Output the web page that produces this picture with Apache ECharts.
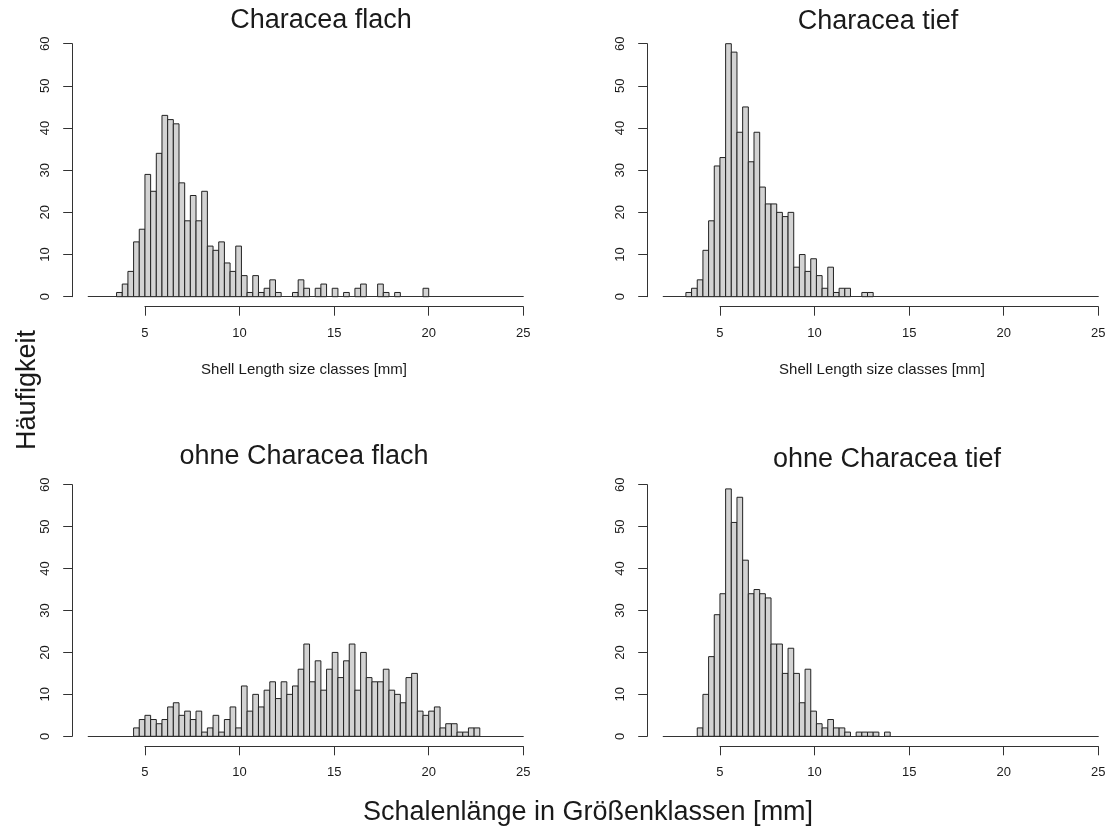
<!DOCTYPE html>
<html>
<head>
<meta charset="utf-8">
<script src="https://cdn.jsdelivr.net/npm/echarts@6/dist/echarts.min.js"></script>
<style>
html,body{margin:0;padding:0;background:#fff;}
#chart{width:1113px;height:831px;}
</style>
</head>
<body>
<div id="chart"></div>
<script>
// ---- data (histogram counts, bin width 0.3 mm) ----
const binWidth = 0.3;
const panelTitles = ['Characea flach', 'Characea tief', 'ohne Characea flach', 'ohne Characea tief'];
const subTitle = 'Shell Length size classes [mm]';
const xLabel = 'Schalenlänge in Größenklassen [mm]';
const yLabel = 'Häufigkeit';

const tlStart = 3.5;
const tlCounts = [1,3,6,13,16,29,25,34,43,42,41,27,18,24,18,25,12,11,13,8,6,12,5,1,5,1,2,4,1,0,0,1,4,2,0,2,3,0,2,0,1,0,2,3,0,0,3,1,0,1,0,0,0,0,2];

const trStart = 3.2;
const trCounts = [1,2,4,11,18,31,33,60,58,39,45,32,39,26,22,22,20,19,20,7,10,6,9,5,2,7,1,2,2,0,0,1,1];

const blStart = 4.4;
const blCounts = [2,4,5,4,3,4,7,8,5,6,4,6,1,2,5,1,4,7,2,12,6,10,7,11,13,9,13,10,12,16,22,13,18,11,16,20,14,18,22,11,20,14,13,13,16,11,10,8,14,15,6,5,6,7,2,3,3,1,1,2,2];

const brStart = 3.8;
const brCounts = [2,10,19,29,34,59,51,57,42,34,35,34,33,22,22,15,21,15,8,16,6,3,2,4,2,2,1,0,1,1,1,1,0,1];

const xTickMin = 5, xTickMax = 25, xTickStep = 5;
const yTickMin = 0, yTickMax = 60, yTickStep = 10;
const plotXMin = 2, plotXMax = 25;

// ---- build ----
function bins(start, counts) {
  return counts.map((c, i) => {
    const a = Math.round((start + i * binWidth) * 1000) / 1000;
    const b = Math.round((start + (i + 1) * binWidth) * 1000) / 1000;
    return [a, b, c];
  });
}

const panels = [
  {start: tlStart, counts: tlCounts, left: 88.2, top: 43.7, height: 253},
  {start: trStart, counts: trCounts, left: 663.2, top: 43.7, height: 253},
  {start: blStart, counts: blCounts, left: 88.2, top: 484.7, height: 251.6},
  {start: brStart, counts: brCounts, left: 663.2, top: 484.7, height: 251.6}
];
const plotWidth = 435.1;
const pxPerMm = plotWidth / (plotXMax - plotXMin);

const axisColor = '#333';
const textColor = '#1a1a1a';
const tickFont = 13;

const grids = [], xAxes = [], yAxes = [], series = [];
panels.forEach((p, i) => {
  // main plotting grid
  grids.push({left: p.left, top: p.top, width: plotWidth, height: p.height, containLabel: false});
  xAxes.push({
    type: 'value', gridIndex: grids.length - 1, min: plotXMin, max: plotXMax,
    axisLine: {show: true, onZero: true, lineStyle: {color: axisColor, width: 1}},
    axisTick: {show: false}, axisLabel: {show: false}, splitLine: {show: false}
  });
  yAxes.push({
    type: 'value', gridIndex: grids.length - 1, min: yTickMin, max: yTickMax, interval: yTickStep,
    offset: 16,
    axisLine: {show: true, lineStyle: {color: axisColor, width: 1}},
    axisTick: {show: true, length: 9, lineStyle: {color: axisColor}},
    axisLabel: {show: true, rotate: 90, margin: 20, fontSize: tickFont, color: textColor, fontFamily: 'Liberation Sans, Arial, sans-serif'},
    splitLine: {show: false}
  });
  const mainIdx = xAxes.length - 1;
  series.push({
    type: 'custom', xAxisIndex: mainIdx, yAxisIndex: mainIdx,
    data: bins(p.start, p.counts),
    encode: {x: [0, 1], y: 2},
    renderItem: function (params, api) {
      const c = api.value(2);
      if (!c) return null;
      const p0 = api.coord([api.value(0), 0]);
      const p1 = api.coord([api.value(1), c]);
      return {
        type: 'rect',
        shape: {x: p0[0], y: p1[1], width: p1[0] - p0[0], height: p0[1] - p1[1]},
        style: {fill: '#d3d3d3', stroke: '#222', lineWidth: 1}
      };
    },
    silent: true, animation: false
  });
  // separate R-style x axis (5..25) below the baseline
  const axLeft = p.left + (xTickMin - plotXMin) * pxPerMm;
  const axWidth = (xTickMax - xTickMin) * pxPerMm;
  grids.push({left: axLeft, top: p.top + p.height + 9, width: axWidth, height: 1});
  xAxes.push({
    type: 'value', gridIndex: grids.length - 1, min: xTickMin, max: xTickMax, interval: xTickStep,
    position: 'bottom',
    axisLine: {show: true, onZero: false, lineStyle: {color: axisColor, width: 1}},
    axisTick: {show: true, length: 9, lineStyle: {color: axisColor}},
    axisLabel: {show: true, margin: 20, fontSize: tickFont, color: textColor, fontFamily: 'Liberation Sans, Arial, sans-serif'},
    splitLine: {show: false}
  });
  yAxes.push({type: 'value', gridIndex: grids.length - 1, show: false, min: 0, max: 1});
});

const bigFont = '27px "Liberation Sans", Arial, sans-serif';
const subFont = '15px "Liberation Sans", Arial, sans-serif';
function txt(text, x, y, font, rot) {
  return {
    type: 'text', x: x, y: y, rotation: rot || 0, silent: true,
    style: {text: text, font: font, fill: textColor, align: 'center', verticalAlign: 'middle', textAlign: 'center', textVerticalAlign: 'middle'}
  };
}

const option = {
  backgroundColor: '#fff',
  animation: false,
  grid: grids,
  xAxis: xAxes,
  yAxis: yAxes,
  series: series,
  graphic: [
    txt(panelTitles[0], 321, 21, bigFont),
    txt(panelTitles[1], 878, 22, bigFont),
    txt(panelTitles[2], 304, 457, bigFont),
    txt(panelTitles[3], 887, 460, bigFont),
    txt(subTitle, 304, 370, subFont),
    txt(subTitle, 882, 370, subFont),
    txt(xLabel, 588, 813, bigFont),
    txt(yLabel, 28, 390, bigFont, Math.PI / 2)
  ]
};

const chart = echarts.init(document.getElementById('chart'), null, {renderer: 'canvas'});
chart.setOption(option);
</script>
</body>
</html>
